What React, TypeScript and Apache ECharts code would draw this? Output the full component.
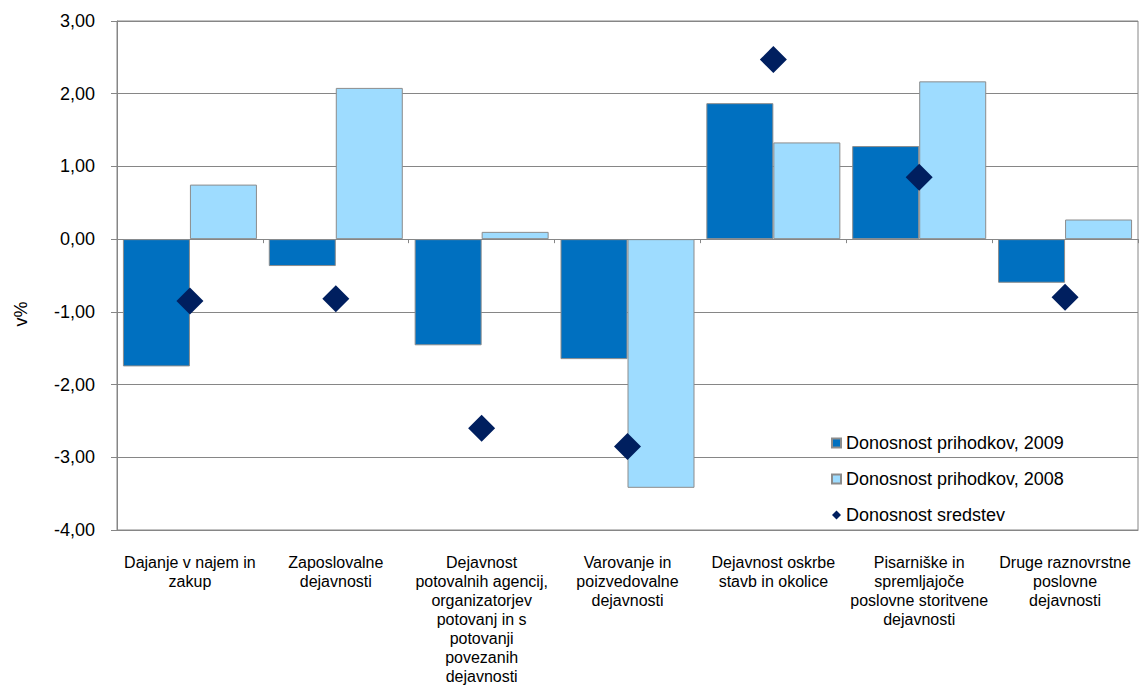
import React, { useEffect, useRef } from "react";
import * as echarts from "echarts";

// Categories (activity groups), with line breaks as laid out under the axis
const categories: string[] = [
  "Dajanje v najem in\nzakup",
  "Zaposlovalne\ndejavnosti",
  "Dejavnost\npotovalnih agencij,\norganizatorjev\npotovanj in s\npotovanji\npovezanih\ndejavnosti",
  "Varovanje in\npoizvedovalne\ndejavnosti",
  "Dejavnost oskrbe\nstavb in okolice",
  "Pisarniške in\nspremljajoče\nposlovne storitvene\ndejavnosti",
  "Druge raznovrstne\nposlovne\ndejavnosti",
];

const seriesNames: string[] = [
  "Donosnost prihodkov, 2009",
  "Donosnost prihodkov, 2008",
  "Donosnost sredstev",
];

// Values in %
const revenue2009: number[] = [-1.75, -0.37, -1.46, -1.65, 1.87, 1.28, -0.6];
const revenue2008: number[] = [0.75, 2.08, 0.1, -3.42, 1.33, 2.17, 0.27];
const assetsReturn: number[] = [-0.85, -0.82, -2.6, -2.85, 2.47, 0.85, -0.8];

const yMin = -4;
const yMax = 3;
const yStep = 1;

const FONT = "'Liberation Sans', Arial, sans-serif";
const GREY = "#868686";

export default function App() {
  const ref = useRef<HTMLDivElement>(null);

  useEffect(() => {
    document.body.style.margin = "0";
    if (!ref.current) return;
    const chart = echarts.init(ref.current, undefined, { renderer: "svg" });

    const barBorder = { borderColor: "#8C8C8C", borderWidth: 1 };

    chart.setOption({
      animation: false,
      backgroundColor: "#ffffff",
      textStyle: { fontFamily: FONT, color: "#000" },
      grid: {
        left: 117,
        right: 3,
        top: 21,
        bottom: 157,
        show: true,
        borderColor: GREY,
        borderWidth: 1,
        backgroundColor: "transparent",
      },
      legend: {
        orient: "vertical",
        left: 826,
        top: 429,
        itemWidth: 9,
        itemHeight: 9,
        itemGap: 18,
        textStyle: { fontFamily: FONT, fontSize: 18, color: "#000" },
        data: [
          { name: seriesNames[0], icon: "rect" },
          { name: seriesNames[1], icon: "rect" },
          { name: seriesNames[2], icon: "diamond" },
        ],
      },
      xAxis: [
        {
          type: "category",
          data: categories,
          position: "bottom",
          axisLine: { onZero: false, lineStyle: { color: GREY, width: 1 } },
          axisTick: { show: false },
          axisLabel: {
            interval: 0,
            margin: 23,
            fontFamily: FONT,
            fontSize: 16,
            lineHeight: 19,
            color: "#000",
            align: "center",
          },
        },
        {
          // zero line with small tick marks between categories
          type: "category",
          data: categories,
          position: "top",
          axisLine: { onZero: true, lineStyle: { color: GREY, width: 1 } },
          axisTick: { show: true, inside: true, length: 4, lineStyle: { color: GREY } },
          axisLabel: { show: false },
          splitLine: { show: false },
        },
      ],
      yAxis: {
        type: "value",
        min: yMin,
        max: yMax,
        interval: yStep,
        axisLine: { show: true, lineStyle: { color: GREY, width: 1 } },
        axisTick: { show: true, length: 6, lineStyle: { color: GREY } },
        splitLine: { show: true, lineStyle: { color: GREY, width: 1 } },
        axisLabel: {
          margin: 22,
          fontFamily: FONT,
          fontSize: 18,
          color: "#000",
          formatter: (v: number) => v.toFixed(2).replace(".", ","),
        },
      },
      graphic: [
        {
          type: "text",
          x: 21,
          y: 314,
          rotation: Math.PI / 2,
          style: {
            text: "v%",
            fontFamily: FONT,
            fontSize: 18,
            fill: "#000",
            align: "center",
            verticalAlign: "middle",
          },
        },
      ],
      series: [
        {
          name: seriesNames[0],
          type: "bar",
          xAxisIndex: 0,
          data: revenue2009,
          barWidth: 67,
          barGap: "0%",
          itemStyle: { color: "#0070C0", ...barBorder },
        },
        {
          name: seriesNames[1],
          type: "bar",
          xAxisIndex: 0,
          data: revenue2008,
          barWidth: 67,
          barGap: "0%",
          itemStyle: { color: "#9EDCFF", ...barBorder },
        },
        {
          name: seriesNames[2],
          type: "scatter",
          xAxisIndex: 0,
          data: assetsReturn,
          symbol: "diamond",
          symbolSize: 27,
          z: 5,
          itemStyle: { color: "#001F5F", opacity: 1 },
        },
      ],
    });

    return () => chart.dispose();
  }, []);

  return <div ref={ref} style={{ width: 1141, height: 687 }} />;
}
